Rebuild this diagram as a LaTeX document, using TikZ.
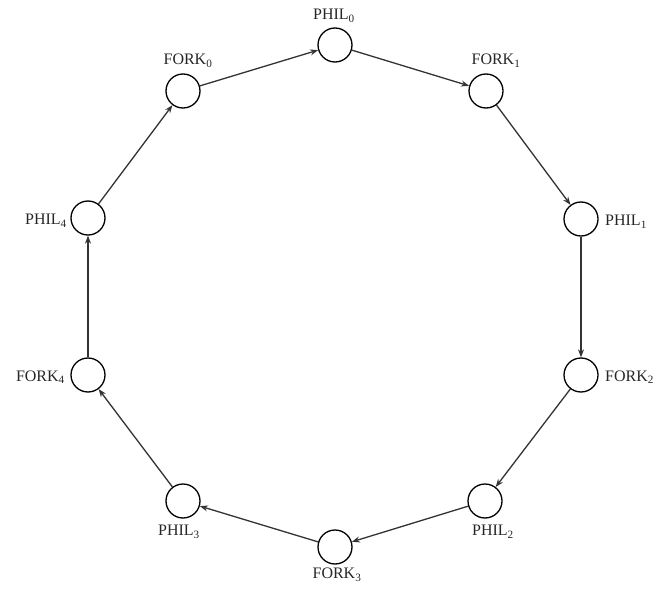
\documentclass[tikz,border=0pt]{standalone}
\usepackage{fontspec}
\setmainfont{Liberation Serif}
\usetikzlibrary{arrows.meta}
\begin{document}
\begin{tikzpicture}[x=1pt,y=-1pt,
  place/.style={circle,draw=black,line width=1.3pt,minimum size=34pt,inner sep=0pt},
  lbl/.style={font=\fontsize{16}{17}\selectfont,inner sep=0pt,text=black!85},
  conn/.style={draw=black!80,line width=1.3pt,-{Stealth[length=8pt,width=6pt]}}]
\useasboundingbox (0,0) rectangle (659,591);
\node[place] (p0) at (335,45) {};
\node[place] (f1) at (486,91) {};
\node[place] (p1) at (581,219) {};
\node[place] (f2) at (581,375) {};
\node[place] (p2) at (485,501) {};
\node[place] (f3) at (335,547) {};
\node[place] (p3) at (183,501) {};
\node[place] (f4) at (88,375) {};
\node[place] (p4) at (88,218) {};
\node[place] (f0) at (183,91) {};
\node[lbl] (lp0) at (334,16) {PHIL\textsubscript{0}};
\node[lbl] (lf1) at (496,61) {FORK\textsubscript{1}};
\node[lbl,anchor=west] (lp1) at (605,222) {PHIL\textsubscript{1}};
\node[lbl,anchor=west] (lf2) at (605,377) {FORK\textsubscript{2}};
\node[lbl] (lp2) at (493,532) {PHIL\textsubscript{2}};
\node[lbl] (lf3) at (337,575) {FORK\textsubscript{3}};
\node[lbl] (lp3) at (179,532) {PHIL\textsubscript{3}};
\node[lbl,anchor=east] (lf4) at (65,377) {FORK\textsubscript{4}};
\node[lbl,anchor=east] (lp4) at (67,221) {PHIL\textsubscript{4}};
\node[lbl] (lf0) at (188,61) {FORK\textsubscript{0}};
\draw[conn] (p0) -- (f1);
\draw[conn] (f1) -- (p1);
\draw[conn] (p1) -- (f2);
\draw[conn] (f2) -- (p2);
\draw[conn] (p2) -- (f3);
\draw[conn] (f3) -- (p3);
\draw[conn] (p3) -- (f4);
\draw[conn] (f4) -- (p4);
\draw[conn] (p4) -- (f0);
\draw[conn] (f0) -- (p0);
\end{tikzpicture}
\end{document}
